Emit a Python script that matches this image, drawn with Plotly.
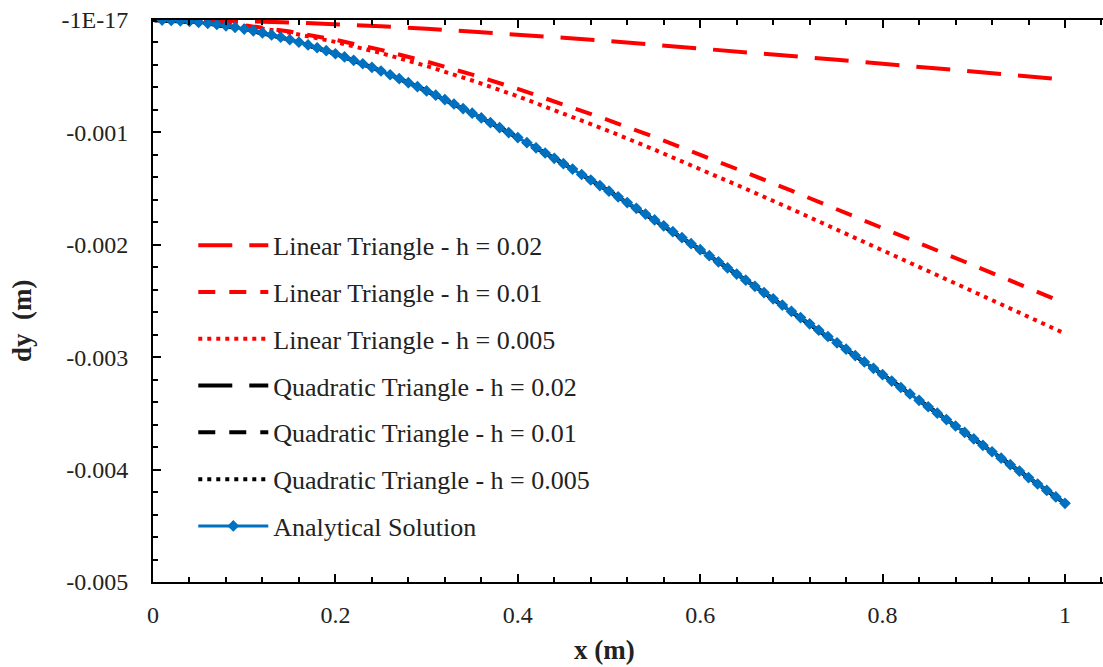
import plotly.graph_objects as go

# ---------------- data ----------------
x_analytical = [round(0.01 * i, 2) for i in range(1, 101)]
y_analytical = [
    -0.00000085, -0.00000339, -0.00000759, -0.00001340, -0.00002079,
    -0.00002974, -0.00004021, -0.00005216, -0.00006557, -0.00008041,
    -0.00009664, -0.00011423, -0.00013315, -0.00015338, -0.00017488,
    -0.00019762, -0.00022157, -0.00024671, -0.00027300, -0.00030043,
    -0.00032895, -0.00035855, -0.00038919, -0.00042086, -0.00045352,
    -0.00048714, -0.00052171, -0.00055719, -0.00059357, -0.00063081,
    -0.00066890, -0.00070780, -0.00074750, -0.00078797, -0.00082919,
    -0.00087114, -0.00091379, -0.00095713, -0.00100112, -0.00104576,
    -0.00109102, -0.00113687, -0.00118330, -0.00123029, -0.00127783,
    -0.00132586, -0.00137443, -0.00142347, -0.00147297, -0.00152292,
    -0.00157330, -0.00162409, -0.00167528, -0.00172684, -0.00177878,
    -0.00183106, -0.00188367, -0.00193660, -0.00198984, -0.00204336,
    -0.00209716, -0.00215122, -0.00220553, -0.00226007, -0.00231484,
    -0.00236982, -0.00242500, -0.00248036, -0.00253590, -0.00259161,
    -0.00264747, -0.00270348, -0.00275962, -0.00281588, -0.00287227,
    -0.00292876, -0.00298534, -0.00304203, -0.00309879, -0.00315563,
    -0.00321253, -0.00326951, -0.00332653, -0.00338361, -0.00344073,
    -0.00349788, -0.00355508, -0.00361230, -0.00366954, -0.00372681,
    -0.00378409, -0.00384139, -0.00389870, -0.00395602, -0.00401334,
    -0.00407067, -0.00412800, -0.00418533, -0.00424267, -0.00430000,
]

x_fem = [0, 0.05, 0.1, 0.15, 0.2, 0.25, 0.3, 0.35, 0.4, 0.45, 0.5,
         0.55, 0.6, 0.65, 0.7, 0.75, 0.8, 0.85, 0.9, 0.95, 1.0]

y_lin_002 = [0, -0.0000026, -0.0000099, -0.0000216, -0.0000370, -0.0000559,
             -0.0000778, -0.0001022, -0.0001289, -0.0001575, -0.0001877,
             -0.0002192, -0.0002519, -0.0002853, -0.0003194, -0.0003540,
             -0.0003889, -0.0004241, -0.0004594, -0.0004947, -0.0005300]
y_lin_001 = [0, -0.0000122, -0.0000471, -0.0001025, -0.0001761, -0.0002658,
             -0.0003697, -0.0004859, -0.0006129, -0.0007489, -0.0008925,
             -0.0010424, -0.0011975, -0.0013566, -0.0015188, -0.0016833,
             -0.0018493, -0.0020164, -0.0021841, -0.0023520, -0.0025200]
y_lin_0005 = [0, -0.0000135, -0.0000522, -0.0001135, -0.0001949, -0.0002943,
              -0.0004093, -0.0005380, -0.0006785, -0.0008291, -0.0009881,
              -0.0011541, -0.0013258, -0.0015020, -0.0016815, -0.0018636,
              -0.0020475, -0.0022325, -0.0024181, -0.0026040, -0.0027900]
y_quad_002 = [0, -0.0000208, -0.0000804, -0.0001749, -0.0003004, -0.0004535,
              -0.0006308, -0.0008292, -0.0010458, -0.0012778, -0.0015229,
              -0.0017788, -0.0020434, -0.0023148, -0.0025916, -0.0028723,
              -0.0031556, -0.0034407, -0.0037268, -0.0040133, -0.0043000]
y_quad_001 = list(y_quad_002)
y_quad_0005 = list(y_quad_002)

series_names = [
    "Linear Triangle - h = 0.02",
    "Linear Triangle - h = 0.01",
    "Linear Triangle - h = 0.005",
    "Quadratic Triangle - h = 0.02",
    "Quadratic Triangle - h = 0.01",
    "Quadratic Triangle - h = 0.005",
    "Analytical Solution",
]

y_tickvals = [0, -0.001, -0.002, -0.003, -0.004, -0.005]
y_ticktext = ["-1E-17", "-0.001", "-0.002", "-0.003", "-0.004", "-0.005"]
x_tickvals = [0, 0.2, 0.4, 0.6, 0.8, 1.0]
x_ticktext = ["0", "0.2", "0.4", "0.6", "0.8", "1"]

# ---------------- figure ----------------
FONT = "Liberation Serif"
RED = "#FF0000"
BLACK = "#000000"
BLUE = "#0070C0"

LONG = "34px,17px"
DASH = "17px,14px"
DOT = "4px,5px"

fig = go.Figure()
styles = [
    (y_lin_002, RED, LONG),
    (y_lin_001, RED, DASH),
    (y_lin_0005, RED, DOT),
    (y_quad_002, BLACK, LONG),
    (y_quad_001, BLACK, DASH),
    (y_quad_0005, BLACK, DOT),
]
for i, (ys, col, dash) in enumerate(styles):
    fig.add_trace(go.Scatter(
        x=x_fem, y=ys, mode="lines", name=series_names[i],
        legendgroup=f"g{i}",
        line=dict(color=col, width=4, dash=dash),
    ))

fig.add_trace(go.Scatter(
    x=x_analytical, y=y_analytical, mode="lines+markers",
    name=series_names[6], legendgroup="g6",
    line=dict(color=BLUE, width=3),
    marker=dict(symbol="diamond", size=9, color=BLUE),
))

axis_common = dict(
    showline=True, linecolor="black", linewidth=2,
    ticks="inside", tickcolor="black", tickwidth=2, ticklen=8,
    showgrid=False, zeroline=False,
    tickfont=dict(family=FONT, size=24, color="#222222"),
)

fig.update_xaxes(
    range=[0, 950 / 912], tickvals=x_tickvals, ticktext=x_ticktext,
    mirror="ticks", ticklabelstandoff=10,
    minor=dict(ticks="inside", ticklen=5, tickwidth=2, tickcolor="black", dtick=0.04, tick0=0),
    **axis_common,
)
fig.update_yaxes(
    range=[-0.005, 0], tickvals=y_tickvals, ticktext=y_ticktext,
    ticklabelstandoff=18,
    minor=dict(ticks="inside", ticklen=5, tickwidth=2, tickcolor="black", dtick=0.0002, tick0=0),
    **axis_common,
)

fig.update_layout(
    width=1103, height=667,
    margin=dict(l=153, r=0, t=20, b=85, autoexpand=False),
    paper_bgcolor="white", plot_bgcolor="white",
    font=dict(family=FONT, size=24, color="#222222"),
    showlegend=True,
    legend=dict(
        x=0.0424, y=0.641, xanchor="left", yanchor="top",
        bgcolor="rgba(0,0,0,0)", borderwidth=0,
        font=dict(family=FONT, size=26, color="#222222"),
        traceorder="grouped", tracegroupgap=10, itemwidth=70,
    ),
    annotations=[
        dict(text="<b>x (m)</b>", xref="paper", yref="paper",
             x=(604 - 153) / 950, y=(582 - 650) / 562,
             xanchor="center", yanchor="middle", showarrow=False,
             font=dict(family=FONT, size=27, color="#222222")),
        dict(text="<b>dy&nbsp; (m)</b>", xref="paper", yref="paper",
             x=(22 - 153) / 950, y=(582 - 321) / 562, textangle=-90,
             xanchor="center", yanchor="middle", showarrow=False,
             font=dict(family=FONT, size=27, color="#222222")),
    ],
)

fig.write_html("out.html")
